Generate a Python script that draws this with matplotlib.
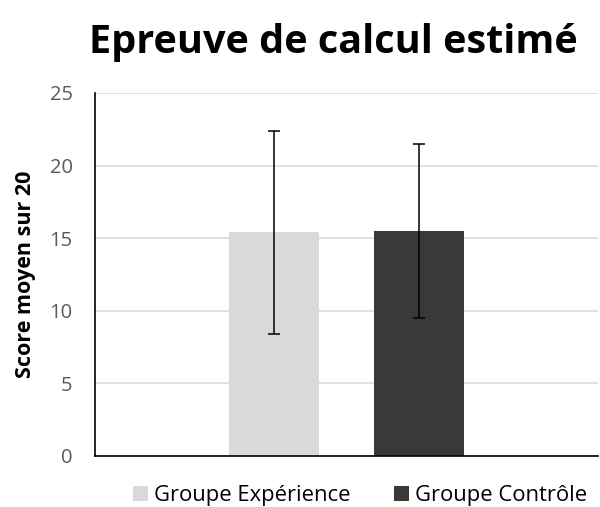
import matplotlib.pyplot as plt

# data
groups = ['Groupe Expérience', 'Groupe Contrôle']
means = [15.4, 15.5]
errors = [7.0, 6.0]
colors = ['#d9d9d9', '#3a3938']
yticks = [0, 5, 10, 15, 20, 25]

plt.rcParams['font.family'] = ['Open Sans', 'DejaVu Sans']

fig = plt.figure(figsize=(6, 5.07), dpi=100)
ax = fig.add_axes([0.158, 0.1006, 0.839, 0.7160])

offsets = [-0.1437, 0.1437]
bars = []
for off, m, e, c, g in zip(offsets, means, errors, colors, groups):
    b = ax.bar(off, m, width=0.179, color=c, label=g, zorder=2)
    ax.errorbar(off, m, yerr=e, fmt='none', ecolor='black', elinewidth=1.1,
                capsize=4.5, capthick=1.1, zorder=3)
    bars.append(b)

ax.set_xlim(-0.5, 0.5)
ax.set_ylim(0, 25)
ax.set_yticks(yticks)
ax.set_xticks([])
ax.yaxis.grid(True, color='#d9d9d9', linewidth=1.2, zorder=0)
ax.set_axisbelow(True)
for s in ['top', 'right']:
    ax.spines[s].set_visible(False)
for s in ['left', 'bottom']:
    ax.spines[s].set_color('black')
    ax.spines[s].set_linewidth(1.2)
ax.tick_params(axis='y', length=0, pad=16, labelsize=14.5, labelcolor='#595959')

ax.set_ylabel('Score moyen sur 20', fontsize=15.5, fontweight='bold')
ax.yaxis.set_label_coords(-0.117, 0.5)

fig.text(0.555, 0.916, 'Epreuve de calcul estimé', ha='center', va='center',
         fontsize=28.5, fontweight='bold')

fig.legend(handles=bars, loc='center', bbox_to_anchor=(0.6, 0.022), ncol=2,
           frameon=False, fontsize=15.8, handlelength=0.7, handleheight=0.7,
           handletextpad=0.25, columnspacing=2.0, borderaxespad=0, borderpad=0)

fig.savefig('out.png', dpi=100)
